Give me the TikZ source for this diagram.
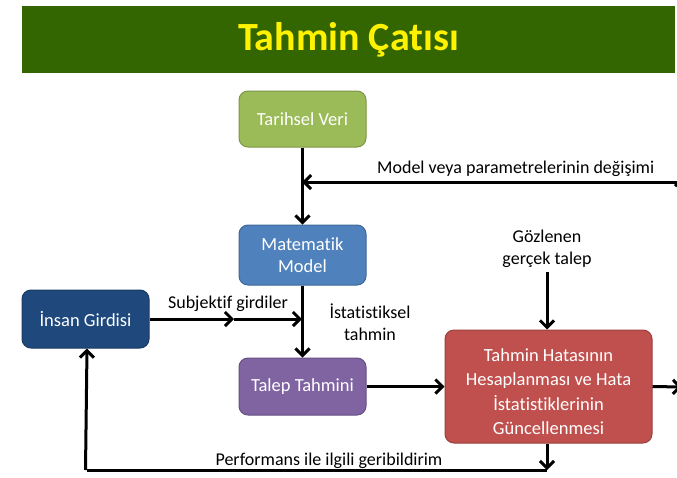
\documentclass[tikz,border=0pt]{standalone}
\usepackage{fontspec}
\setmainfont{Carlito}[Ligatures=NoCommon]
\usetikzlibrary{arrows.meta,positioning}
\definecolor{titlegreen}{HTML}{336600}
\definecolor{boxgreen}{HTML}{9BBB59}
\definecolor{boxblue}{HTML}{4F81BD}
\definecolor{boxnavy}{HTML}{1F497D}
\definecolor{boxpurple}{HTML}{8064A2}
\definecolor{boxred}{HTML}{C0504D}
\tikzset{
  box/.style={rounded corners=9pt, draw=#1!80!black, line width=1pt, fill=#1, text=white,
    align=center, font=\fontsize{18.5}{22}\selectfont, inner sep=0pt},
  conn/.style={line width=3pt, -{Straight Barb[length=7pt,width=14pt,line width=3pt]}},
  plain/.style={line width=3pt},
  lbl/.style={font=\fontsize{18}{22}\selectfont, align=center, inner sep=0pt}
}
\begin{document}
\begin{tikzpicture}[x=1pt,y=-1pt]
\path[use as bounding box, fill=white] (0,0) rectangle (677,477);
\begin{scope}
\clip (0,0) rectangle (677,477);
% title
\node[fill=titlegreen, minimum width=653pt, minimum height=67pt, inner sep=0pt,
  text=yellow, font=\bfseries\fontsize{40}{46}\selectfont] (title) at (348.5,39.5) {Tahmin Çatısı};
% boxes
\node[box=boxgreen, minimum width=127pt, minimum height=56pt] (tv) at (302.5,119) {Tarihsel Veri};
\node[box=boxblue, minimum width=127pt, minimum height=60pt] (mm) at (302.5,255) {Matematik\\Model};
\node[box=boxnavy, minimum width=127pt, minimum height=58pt] (ig) at (85.5,319) {İnsan Girdisi};
\node[box=boxpurple, minimum width=127pt, minimum height=57pt] (tt) at (302.5,386.5) {Talep Tahmini};
\node[box=boxred, minimum width=207pt, minimum height=113pt] (re) at (548.5,386.5) {};
\node[box=boxred, draw=none, fill=none, font=\fontsize{18.5}{24.5}\selectfont] (retext) at ([yshift=-5pt]re.center)
  {Tahmin Hatasının\\Hesaplanması ve Hata\\İstatistiklerinin\\Güncellenmesi};
% coordinates
\coordinate (mj) at (302,182);
\coordinate (rtop) at (682,182);
\coordinate (rbot) at (682,387);
\coordinate (sj) at (302,319);
\coordinate (sm) at (234,319);
\coordinate (gz) at (547,272);
\coordinate (fb) at (547,470);
\coordinate (fl) at (87,470);
% connectors
\draw[conn] (tv.south) -- (mm.north);
\draw[conn] (rtop) -- (mj);
\draw[conn] (rbot) -- ([yshift=5pt]rtop);
\draw[conn] (mm.south) -- (tt.north);
\draw[conn] (ig.east) -- (sm);
\draw[conn] (sm) -- (sj);
\draw[conn] (tt.east) -- (re.west |- tt.east);
\draw[conn] (gz) -- (re.north -| gz);
\draw[conn] (re.east) -- (rbot);
\draw[conn] (re.south -| fb) -- (fb);
\draw[plain] (fb) -- (fl);
\draw[conn] ([xshift=-1.5pt]fl) -- (ig.south -| fl);
% labels
\node[lbl, anchor=south west] (l1) at (377,177) {Model veya parametrelerinin değişimi};
\node[lbl] (l2) at (228,304) {Subjektif girdiler};
\node[lbl] (l3) at (370,322) {İstatistiksel\\tahmin};
\node[lbl] (l4) at (547,249) {Gözlenen\\gerçek talep};
\node[lbl] (l5) at (329,461) {Performans ile ilgili geribildirim};
\end{scope}
\end{tikzpicture}
\end{document}
